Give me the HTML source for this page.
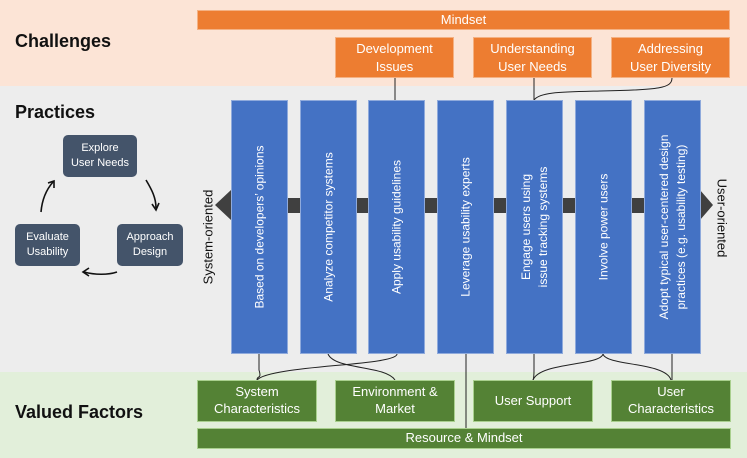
<!DOCTYPE html>
<html><head><meta charset="utf-8"><style>
*{margin:0;padding:0;box-sizing:border-box}
body{width:747px;height:458px;position:relative;overflow:hidden;font-family:"Liberation Sans",sans-serif;background:#ededed}
.abs{position:absolute}
.or{position:absolute;background:#ed7d31;color:#fff;font-size:13px;text-align:center;display:flex;align-items:center;justify-content:center;line-height:1.35;border:1px solid #f4b183}
.gr{position:absolute;background:#548235;color:#fff;font-size:13px;text-align:center;display:flex;align-items:center;justify-content:center;line-height:1.3;border:1px solid #a9d08e}
.bl{position:absolute;background:#4472c4;top:100px;height:254px;width:57px;border:1px solid #8faadc}
.bl span{position:absolute;left:50%;top:50%;transform:translate(-50%,-50%) rotate(-90deg);white-space:nowrap;color:#fff;font-size:12px;text-align:center;line-height:1.4}
.cy{position:absolute;background:#44546a;color:#fff;font-size:11px;text-align:center;display:flex;align-items:center;justify-content:center;border-radius:5px;line-height:1.4}
.h{position:absolute;font-weight:bold;font-size:18px;color:#111}
</style></head><body>
<div class="abs" style="left:0;top:0;width:747px;height:86px;background:#fce4d6"></div>
<div class="abs" style="left:0;top:372px;width:747px;height:86px;background:#e2efda"></div>
<div class="h" style="left:15px;top:31px">Challenges</div>
<div class="h" style="left:15px;top:102px">Practices</div>
<div class="h" style="left:15px;top:402px">Valued Factors</div>

<div class="or" style="left:197px;top:10px;width:533px;height:20px">Mindset</div>
<div class="or" style="left:335px;top:37px;width:119px;height:41px">Development<br>Issues</div>
<div class="or" style="left:473px;top:37px;width:119px;height:41px">Understanding<br>User Needs</div>
<div class="or" style="left:611px;top:37px;width:119px;height:41px">Addressing<br>User Diversity</div>

<svg class="abs" style="left:0;top:0" width="747" height="458">
<polygon points="215,205 231,190 231,198 700,198 700,190 713,205 700,220 700,213 231,213 231,220" fill="#404040"/>
<g stroke="#222" stroke-width="1" fill="none">
<path d="M395,78 V100"/>
<path d="M534,78 V100 C540,92 560,92 600,91 C660,90 672,88 672,78"/>
<path d="M259,354 V370 C262,380 257,375 257,380"/>
<path d="M397,354 C397,366 270,365 257,380"/>
<path d="M328,354 C335,370 385,365 395,380"/>
<path d="M466,354 V428"/>
<path d="M534,354 V370 C534,374 534,378 533,380"/>
<path d="M603,354 C600,366 540,362 533,380"/>
<path d="M603,354 C606,366 666,362 671,380"/>
<path d="M672,354 V380"/>
</g>
<g stroke="#111" stroke-width="1.6" fill="none">
<path d="M146,180 C152,190 156,198 156,208"/><path d="M152,204 L156,210 L159,203"/>
<path d="M117,272 C108,275 95,275 84,272"/><path d="M89,268 L83,272 L89,276"/>
<path d="M41,212 C42,200 46,190 53,182"/><path d="M48,183 L54,181 L54,188"/>
</g>
</svg>

<div class="cy" style="left:63px;top:135px;width:74px;height:42px">Explore<br>User Needs</div>
<div class="cy" style="left:117px;top:224px;width:66px;height:42px">Approach<br>Design</div>
<div class="cy" style="left:15px;top:224px;width:65px;height:42px">Evaluate<br>Usability</div>

<div class="abs" style="font-size:13px;white-space:nowrap;transform:translate(-50%,-50%) rotate(-90deg);left:208px;top:237px;color:#111">System-oriented</div>
<div class="abs" style="font-size:13px;white-space:nowrap;transform:translate(-50%,-50%) rotate(90deg);left:722px;top:218px;color:#111">User-oriented</div>

<div class="bl" style="left:231px"><span>Based on developers’ opinions</span></div>
<div class="bl" style="left:300px"><span>Analyze competitor systems</span></div>
<div class="bl" style="left:368px"><span>Apply usability guidelines</span></div>
<div class="bl" style="left:437px"><span>Leverage usability experts</span></div>
<div class="bl" style="left:506px"><span>Engage users using<br>issue tracking systems</span></div>
<div class="bl" style="left:575px"><span>Involve power users</span></div>
<div class="bl" style="left:644px"><span>Adopt typical user-centered design<br>practices (e.g. usability testing)</span></div>

<div class="gr" style="left:197px;top:380px;width:120px;height:42px">System<br>Characteristics</div>
<div class="gr" style="left:335px;top:380px;width:120px;height:42px">Environment &amp;<br>Market</div>
<div class="gr" style="left:473px;top:380px;width:120px;height:42px">User Support</div>
<div class="gr" style="left:611px;top:380px;width:120px;height:42px">User<br>Characteristics</div>
<div class="gr" style="left:197px;top:428px;width:534px;height:21px">Resource &amp; Mindset</div>
</body></html>
